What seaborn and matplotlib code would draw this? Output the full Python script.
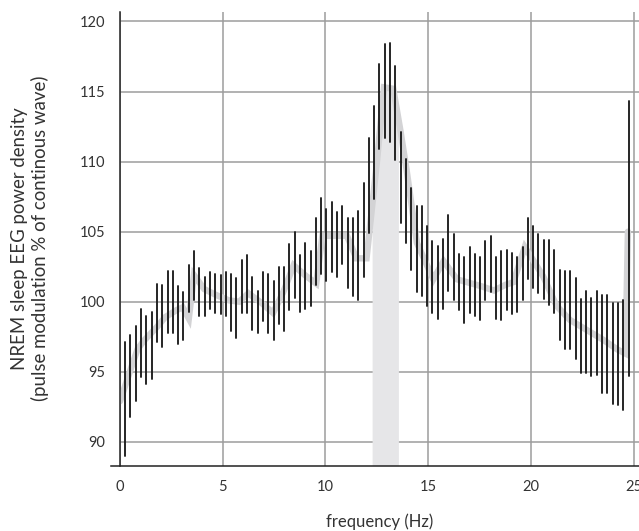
import matplotlib
matplotlib.use('Agg')
import matplotlib.pyplot as plt
import seaborn as sns
import numpy as np
import pandas as pd

# frequency bins of the error bars: 96 bins, first at 0.25 Hz, last at 24.75 Hz
bin_freq = np.linspace(0.25, 24.75, 96)

# lower / upper end of each error bar (% of continuous wave)
bar_low = [89.0, 91.8, 92.9, 94.6, 94.1, 94.5, 97.1, 96.8, 97.8, 97.8,
           97.0, 97.3, 99.3, 100.1, 99.0, 99.0, 99.5, 99.2, 99.1, 99.0,
           97.9, 97.4, 99.2, 99.2, 98.0, 97.8, 98.6, 97.8, 97.3, 98.4,
           97.9, 99.4, 100.3, 99.3, 99.5, 99.7, 101.2, 102.0, 101.5, 102.1,
           101.8, 102.7, 101.0, 100.4, 100.1, 101.8, 104.9, 107.3, 110.9, 111.7,
           111.4, 110.1, 105.6, 104.2, 102.3, 100.7, 100.4, 99.7, 99.2, 98.8,
           99.5, 100.8, 100.1, 99.4, 98.5, 99.2, 99.0, 98.7, 100.1, 100.7,
           98.8, 98.7, 99.4, 99.1, 99.3, 100.1, 101.6, 101.0, 100.6, 100.2,
           99.8, 99.2, 97.3, 96.6, 96.6, 95.9, 94.9, 94.9, 94.7, 94.8,
           93.5, 93.5, 92.7, 92.6, 92.3, 94.7]
bar_high = [97.1, 97.6, 98.3, 99.5, 99.0, 99.3, 101.3, 101.2, 102.2, 102.2,
            101.1, 100.7, 102.6, 103.6, 102.4, 101.8, 102.1, 102.0, 101.9, 102.1,
            102.0, 101.7, 103.0, 103.3, 101.8, 100.8, 102.1, 102.0, 101.5, 102.5,
            102.5, 104.1, 105.0, 103.3, 104.2, 103.6, 106.0, 107.4, 106.6, 107.1,
            106.4, 106.8, 106.0, 106.0, 106.5, 108.5, 111.7, 114.0, 117.0, 118.4,
            118.5, 116.8, 112.1, 110.2, 108.1, 106.8, 106.8, 105.4, 104.3, 104.0,
            104.5, 106.2, 104.8, 103.4, 103.2, 103.9, 103.4, 103.2, 104.3, 104.7,
            103.2, 103.6, 103.7, 103.5, 103.2, 103.9, 106.0, 105.4, 104.8, 104.4,
            104.4, 103.7, 102.3, 102.2, 102.2, 101.7, 100.2, 100.8, 100.3, 100.8,
            100.5, 100.5, 99.9, 99.9, 100.1, 114.3]

# grey mean curve
mean_freq = [0.0, 0.5, 0.85, 1.15, 1.8, 2.2, 2.75, 3.05, 3.35, 3.6,
             4.1, 4.65, 5.3, 5.8, 6.25, 6.9, 7.45, 7.95, 8.45, 9.0,
             9.55, 9.85, 11.05, 11.5, 12.0, 12.5, 12.85, 13.3, 13.65, 13.95,
             14.45, 15.25, 15.75, 16.4, 17.6, 18.2, 18.75, 19.15, 19.7, 20.05,
             20.6, 21.25, 21.9, 22.7, 23.5, 24.2, 24.6, 24.72]
mean_val = [92.9, 95.1, 96.6, 97.2, 98.2, 98.9, 99.4, 99.6, 98.8, 101.9,
            100.9, 100.5, 100.1, 100.0, 100.6, 99.9, 99.2, 100.7, 102.6, 101.9,
            101.3, 104.7, 104.7, 103.1, 103.1, 109.9, 115.3, 115.2, 112.2, 109.4,
            104.2, 101.6, 102.9, 101.6, 101.1, 100.8, 101.2, 101.4, 103.9, 103.1,
            101.8, 99.7, 98.7, 98.0, 97.3, 96.6, 96.3, 105.0]

# stimulation band (Hz)
band_lo, band_hi = 12.27, 13.55

xticks = [0, 5, 10, 15, 20, 25]
yticks = [90, 95, 100, 105, 110, 115, 120]

sns.set_style('white')
plt.rcParams['font.family'] = ['Lato', 'DejaVu Sans']

fig = plt.figure(figsize=(6.39, 5.31), dpi=100)
ax = fig.add_axes([0.1878, 0.123, 0.8122, 0.855])
ymin, ymax = 88.3, 120.7

# shaded band under the mean curve
bx = np.array([band_lo] + [f for f in mean_freq if band_lo < f < band_hi] + [band_hi])
by = np.interp(bx, mean_freq, mean_val)
ax.fill_between(bx, ymin, by, color='#e6e6e8', lw=0, zorder=1)

sns.lineplot(x=mean_freq, y=mean_val, color='#d3d3d5', lw=4.6, ax=ax,
             zorder=2, sort=False, solid_joinstyle='miter')

# error bars as vertical segments
bars = pd.DataFrame({
    'freq': np.repeat(bin_freq, 2),
    'val': np.column_stack([bar_low, bar_high]).ravel(),
    'bin': np.repeat(np.arange(len(bin_freq)), 2),
})
sns.lineplot(data=bars, x='freq', y='val', units='bin', estimator=None,
             color='#1c1c1c', lw=1.35, ax=ax, zorder=3)

ax.set_xlim(0, 25.26)
ax.set_ylim(ymin, ymax)
ax.set_xticks(xticks)
ax.set_yticks(yticks)
ax.grid(True, color='#9c9c9c', lw=1.1)
ax.set_axisbelow(True)

for s in ['top', 'right']:
    ax.spines[s].set_visible(False)
ax.spines['left'].set_color('#222222')
ax.spines['left'].set_linewidth(1.1)
ax.spines['bottom'].set_color('#222222')
ax.spines['bottom'].set_linewidth(1.1)
ax.spines['bottom'].set_bounds(-0.45, 25.3)
ax.spines['left'].set_zorder(4)

ax.tick_params(axis='y', length=7.2, width=1.0, color='#9c9c9c', pad=3.6,
               labelsize=10.5, labelcolor='#333333')
ax.tick_params(axis='x', length=3, width=1.0, color='#9c9c9c', pad=7,
               labelsize=10.5, labelcolor='#333333')

ax.set_xlabel('frequency (Hz)', fontsize=12, color='#333333', va='center')
ax.xaxis.set_label_coords(0.5, -0.124)
ax.set_ylabel('NREM sleep EEG power density\n(pulse modulation % of continous wave)',
              fontsize=13.4, color='#333333', va='center', linespacing=1.2)
ax.yaxis.set_label_coords(-0.173, 0.5)

plt.savefig('out.png', dpi=100)
plt.close('all')
